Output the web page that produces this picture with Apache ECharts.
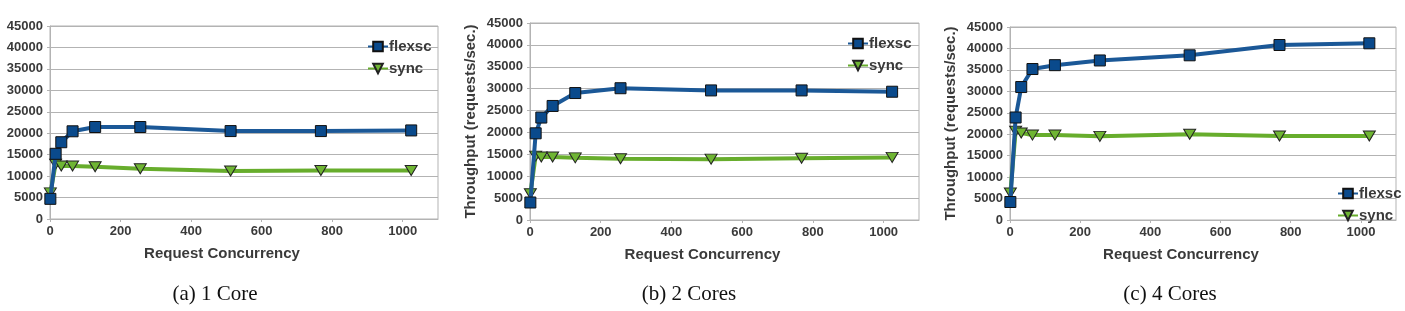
<!DOCTYPE html>
<html>
<head>
<meta charset="utf-8">
<script src="https://cdn.jsdelivr.net/npm/echarts@6/dist/echarts.min.js"></script>
<style>
html,body{margin:0;padding:0;background:#fff;}
#c{width:1405px;height:311px;}
</style>
</head>
<body>
<div id="c"></div>
<script>
// Request concurrency (x values)
const concurrency = [1, 16, 32, 64, 128, 256, 512, 768, 1024];
// (a) 1 Core
const flexsc1 = [4700, 15200, 17900, 20450, 21450, 21450, 20500, 20500, 20650];
const sync1   = [6100, 12800, 12350, 12350, 12200, 11700, 11200, 11300, 11300];
// (b) 2 Cores
const flexsc2 = [4000, 19800, 23400, 26050, 29000, 30100, 29600, 29600, 29300];
const sync2   = [6000, 14600, 14400, 14400, 14200, 14000, 13900, 14100, 14300];
// (c) 4 Cores
const flexsc4 = [4200, 23900, 31000, 35200, 36100, 37200, 38400, 40800, 41200];
const sync4   = [6300, 20700, 20300, 19800, 19800, 19500, 20000, 19600, 19600];

const captions = ['(a) 1 Core', '(b) 2 Cores', '(c) 4 Cores'];
const seriesNames = ['flexsc', 'sync'];
const xName = 'Request Concurrency';
const yName = 'Throughput (requests/sec.)';

const panels = [
  {grid: {left: 50, top: 26, width: 388, height: 193}, f: flexsc1, s: sync1, yName: '',
   legend: {left: 362, top: 34}, cap: [215, 294]},
  {grid: {left: 530, top: 23, width: 389, height: 197}, f: flexsc2, s: sync2, yName: yName,
   legend: {left: 842, top: 31}, cap: [689, 294]},
  {grid: {left: 1010, top: 27, width: 386, height: 193}, f: flexsc4, s: sync4, yName: yName,
   legend: {left: 1332, top: 181}, cap: [1170, 294]}
];

const zip = (xs, ys) => xs.map((x, i) => [x, ys[i]]);
const labelColor = '#3a3a3a';
const gridColor = '#b3b3b3';

const option = {
  animation: false,
  backgroundColor: '#ffffff',
  grid: panels.map(p => Object.assign({show: true, borderColor: gridColor, borderWidth: 1, backgroundColor: '#fff'}, p.grid)),
  xAxis: panels.map((p, i) => ({
    type: 'value', gridIndex: i, min: 0, max: 1100, interval: 200,
    name: xName, nameLocation: 'middle', nameGap: 27,
    nameTextStyle: {fontFamily: 'Liberation Sans', fontWeight: 'bold', fontSize: 15, color: labelColor, padding: [0, 44, 0, 0]},
    axisLine: {show: true, lineStyle: {color: gridColor}},
    axisTick: {show: true, length: 3, lineStyle: {color: gridColor}},
    splitLine: {show: false},
    axisLabel: {fontFamily: 'Liberation Sans', fontWeight: 'bold', fontSize: 13, color: labelColor, margin: 6,
      showMaxLabel: false, formatter: v => String(v)}
  })),
  yAxis: panels.map((p, i) => ({
    type: 'value', gridIndex: i, min: 0, max: 45000, interval: 5000,
    name: p.yName, nameLocation: 'middle', nameGap: 52, nameRotate: 90,
    nameTextStyle: {fontFamily: 'Liberation Sans', fontWeight: 'bold', fontSize: 15, color: labelColor},
    axisLine: {show: true, lineStyle: {color: gridColor}},
    axisTick: {show: true, length: 3, lineStyle: {color: gridColor}},
    splitLine: {show: true, lineStyle: {color: gridColor, width: 1}},
    axisLabel: {fontFamily: 'Liberation Sans', fontWeight: 'bold', fontSize: 13, color: labelColor, margin: 7,
      formatter: v => String(v)}
  })),
  legend: panels.map(p => ({
    orient: 'vertical', left: p.legend.left, top: p.legend.top,
    data: seriesNames, itemWidth: 20, itemHeight: 12, itemGap: 7,
    selectedMode: false,
    textStyle: {fontFamily: 'Liberation Sans', fontWeight: 'bold', fontSize: 15, color: labelColor, lineHeight: 15, padding: [0, 0, 0, -4]}
  })),
  series: [],
  graphic: panels.map((p, i) => ({
    type: 'text', x: p.cap[0], y: p.cap[1],
    style: {text: captions[i], fontFamily: 'Liberation Serif', fontSize: 21, fill: '#111',
      align: 'center', verticalAlign: 'middle'}
  }))
};

panels.forEach((p, i) => {
  option.series.push({
    name: 'flexsc', type: 'line', xAxisIndex: i, yAxisIndex: i,
    data: zip(concurrency, p.f),
    symbol: 'rect', symbolSize: 11,
    lineStyle: {color: '#1b5897', width: 4},
    itemStyle: {color: '#0a4a8c', borderColor: '#111', borderWidth: 1},
    z: 3
  });
  option.series.push({
    name: 'sync', type: 'line', xAxisIndex: i, yAxisIndex: i,
    data: zip(concurrency, p.s),
    symbol: 'triangle', symbolRotate: 180, symbolSize: [12, 10],
    lineStyle: {color: '#67ad2c', width: 4},
    itemStyle: {color: '#6fb533', borderColor: '#222', borderWidth: 1},
    z: 2
  });
});

const chart = echarts.init(document.getElementById('c'), null, {renderer: 'canvas'});
chart.setOption(option);
</script>
</body>
</html>
